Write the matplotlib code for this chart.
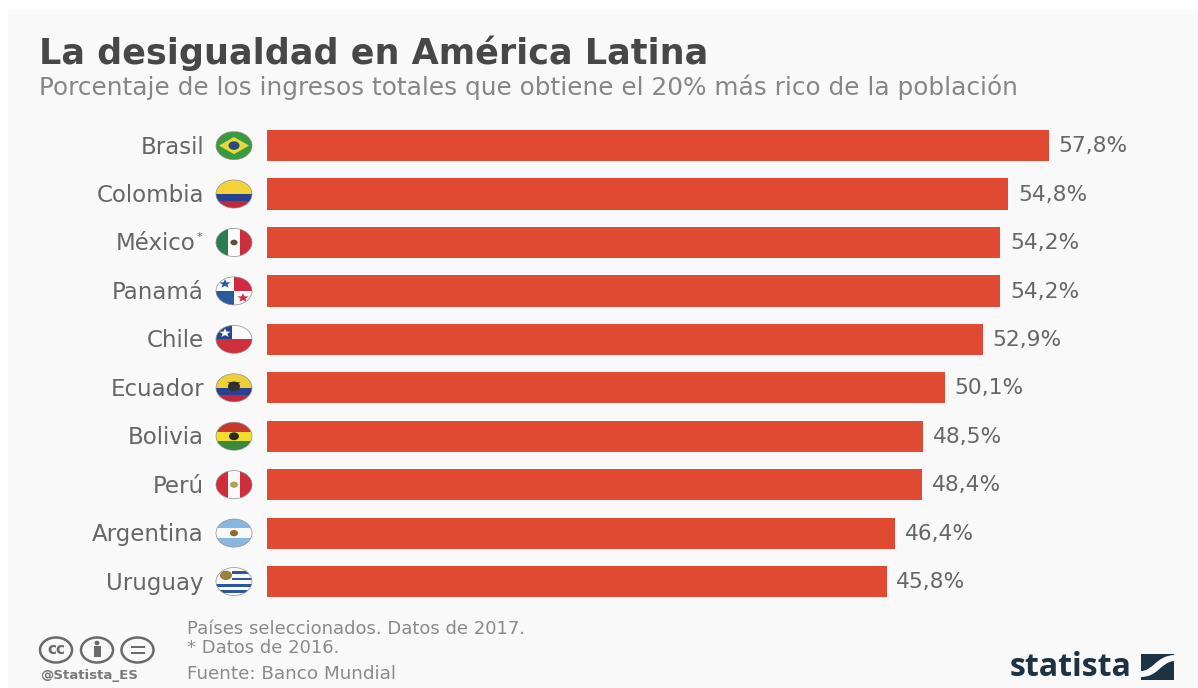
import math
import matplotlib
matplotlib.use('Agg')
import matplotlib.pyplot as plt
from matplotlib.patches import Ellipse, Rectangle, Polygon, PathPatch
from matplotlib.path import Path

W, H = 1198, 688

# datos
paises = ['Brasil', 'Colombia', 'México', 'Panamá', 'Chile',
          'Ecuador', 'Bolivia', 'Perú', 'Argentina', 'Uruguay']
valores = [57.8, 54.8, 54.2, 54.2, 52.9, 50.1, 48.5, 48.4, 46.4, 45.8]
etiquetas = ['57,8%', '54,8%', '54,2%', '54,2%', '52,9%',
             '50,1%', '48,5%', '48,4%', '46,4%', '45,8%']

titulo = 'La desigualdad en América Latina'
subtitulo = 'Porcentaje de los ingresos totales que obtiene el 20% más rico de la población'
notas = ['Países seleccionados. Datos de 2017.', '* Datos de 2016.', 'Fuente: Banco Mundial']

plt.rcParams['font.family'] = ['DejaVu Sans']

ROJO = '#e04a33'
GRIS = '#666666'
OSCURO = '#1d3243'
FONDO = '#f9f9f9'
APLASTE = 0.78  # las banderas son mas anchas que altas

fig = plt.figure(figsize=(W / 100, H / 100), dpi=100, facecolor='white')

# capa de fondo y adornos, en pixeles
fondo = fig.add_axes([0, 0, 1, 1])
fondo.set_xlim(0, W)
fondo.set_ylim(H, 0)
fondo.axis('off')
fondo.add_patch(Rectangle((8, 10), W - 8, H - 10, color=FONDO, lw=0))

# barras
px_por_unidad = 13.53
izq = 267
ax = fig.add_axes([izq / W, (H - 605.8) / H, (W - izq) / W, 484.4 / H])
ax.patch.set_alpha(0)
ax.set_xlim(0, (W - izq) / px_por_unidad)
ax.set_ylim(len(paises) - 0.5, -0.5)
ax.axis('off')
ax.barh(range(len(paises)), valores, height=0.645, color=ROJO)
for i, v in enumerate(valores):
    ax.annotate(etiquetas[i], (v, i), xytext=(7, 1), textcoords='offset points',
                va='center_baseline', ha='left', fontsize=15.7, color=GRIS)


def clip(p, cx, cy):
    fondo.add_patch(p)
    p.set_clip_path(Ellipse((cx, cy), 36, 36 * APLASTE, transform=fondo.transData))
    return p


def banda(cx, cy, x0, y0, w, h, color):
    # rectangulo relativo al centro de la bandera, recortado por el contorno
    return clip(Rectangle((cx + x0, cy + y0 * APLASTE), w, h * APLASTE, color=color, lw=0), cx, cy)


def poli(cx, cy, pts, color):
    return clip(Polygon([(cx + a, cy + b * APLASTE) for a, b in pts], color=color, lw=0), cx, cy)


def disco(cx, cy, x0, y0, r, color):
    return clip(Ellipse((cx + x0, cy + y0 * APLASTE), 2 * r, 2 * r * APLASTE, color=color, lw=0), cx, cy)


def estrella(cx, cy, x0, y0, r, color):
    pts = []
    for k in range(10):
        rr = r if k % 2 == 0 else r * 0.42
        ang = -math.pi / 2 + k * math.pi / 5
        pts.append((x0 + rr * math.cos(ang), y0 + rr * math.sin(ang)))
    poli(cx, cy, pts, color)


def brasil(cx, cy):
    banda(cx, cy, -18, -18, 36, 36, '#3a9a3f')
    poli(cx, cy, [(-15, 0), (0, -11), (15, 0), (0, 11)], '#e8d93a')
    disco(cx, cy, 0, 0, 5.5, '#2b4a7c')


def colombia(cx, cy):
    banda(cx, cy, -18, -18, 36, 18, '#f4d23a')
    banda(cx, cy, -18, 0, 36, 9, '#27408f')
    banda(cx, cy, -18, 9, 36, 9, '#c0283e')


def mexico(cx, cy):
    banda(cx, cy, -18, -18, 12, 36, '#2a7d52')
    banda(cx, cy, -6, -18, 12, 36, '#fafafa')
    banda(cx, cy, 6, -18, 12, 36, '#c92f3c')
    disco(cx, cy, 0, 0, 3.6, '#5b5038')


def panama(cx, cy):
    banda(cx, cy, -18, -18, 36, 36, '#fafafa')
    banda(cx, cy, 0, -18, 18, 18, '#cf2c40')
    banda(cx, cy, -18, 0, 18, 18, '#2a5a9c')
    estrella(cx, cy, -9, -9, 6, '#2a5a9c')
    estrella(cx, cy, 9, 9, 6, '#cf2c40')


def chile(cx, cy):
    banda(cx, cy, -18, -18, 36, 18, '#fafafa')
    banda(cx, cy, -18, -18, 16, 18, '#24478f')
    banda(cx, cy, -18, 0, 36, 18, '#d0303c')
    estrella(cx, cy, -9, -8, 6, '#ffffff')


def ecuador(cx, cy):
    banda(cx, cy, -18, -18, 36, 18, '#efcf35')
    banda(cx, cy, -18, 0, 36, 9, '#27408f')
    banda(cx, cy, -18, 9, 36, 9, '#c0283e')
    disco(cx, cy, 0, -2, 6, '#33302a')
    poli(cx, cy, [(-7, -7), (7, -7), (0, -3)], '#2b2b2b')


def bolivia(cx, cy):
    banda(cx, cy, -18, -18, 36, 12, '#c9382a')
    banda(cx, cy, -18, -6, 36, 12, '#f0dd30')
    banda(cx, cy, -18, 6, 36, 12, '#3a8a3a')
    disco(cx, cy, 0, 0, 5, '#2c2a20')


def peru(cx, cy):
    banda(cx, cy, -18, -18, 12, 36, '#cf2c3c')
    banda(cx, cy, -6, -18, 12, 36, '#fafafa')
    banda(cx, cy, 6, -18, 12, 36, '#cf2c3c')
    disco(cx, cy, 0, 0, 4, '#a9a65a')


def argentina(cx, cy):
    banda(cx, cy, -18, -18, 36, 12, '#86b8e0')
    banda(cx, cy, -18, -6, 36, 12, '#fafafa')
    banda(cx, cy, -18, 6, 36, 12, '#86b8e0')
    disco(cx, cy, 0, 0, 4, '#8f6a30')


def uruguay(cx, cy):
    banda(cx, cy, -18, -18, 36, 36, '#fafafa')
    for y0 in (-13, -5, 3, 11):
        banda(cx, cy, -18 if y0 > 0 else -2, y0, 36, 3.5, '#2c57a0')
    disco(cx, cy, -8, -8, 6, '#9a7f3a')


banderas = [brasil, colombia, mexico, panama, chile,
            ecuador, bolivia, peru, argentina, uruguay]

# nombres y banderas alineados con cada barra
for i, nombre in enumerate(paises):
    cy = 145.6 + i * 48.44
    x_texto = 196 if nombre == 'México' else 204
    fondo.text(x_texto, cy - 1, nombre, ha='right', va='center_baseline', fontsize=16.5, color=GRIS)
    if nombre == 'México':
        fondo.text(196.5, cy - 5, '*', ha='left', va='center', fontsize=8, color=GRIS)
    banderas[i](234, cy)
    fondo.add_patch(Ellipse((234, cy), 36, 36 * APLASTE, fill=False, ec='#8f8f8f', lw=0.5))

# titulos
fondo.text(39, 53, titulo, ha='left', va='center', fontsize=25.2, fontweight='bold', color='#474747')
fondo.text(39, 87, subtitulo, ha='left', va='center', fontsize=17.8, color='#868686')

# notas al pie
fondo.text(187, 629, notas[0], ha='left', va='center', fontsize=13, color='#8a8a8a')
fondo.text(187, 648, notas[1], ha='left', va='center', fontsize=13, color='#8a8a8a')
fondo.text(187, 674, notas[2], ha='left', va='center', fontsize=13.2, color='#8a8a8a')

# iconos de licencia
for cx in (56, 97, 137.5):
    fondo.add_patch(Ellipse((cx, 650), 32, 25, fill=False, ec='#6a6a6a', lw=1.8))
fondo.text(56, 649, 'cc', ha='center', va='center', fontsize=11, fontweight='bold', color='#6a6a6a')
fondo.add_patch(Ellipse((97, 643), 5, 4.5, color='#6a6a6a', lw=0))
fondo.add_patch(Rectangle((93.5, 646), 7, 11, color='#6a6a6a', lw=0))
fondo.add_patch(Rectangle((130.5, 646), 14, 2.3, color='#6a6a6a', lw=0))
fondo.add_patch(Rectangle((130.5, 651.5), 14, 2.3, color='#6a6a6a', lw=0))
fondo.text(40, 675.5, '@Statista_ES', ha='left', va='center', fontsize=9.6, fontweight='bold', color='#7a7a7a')

# marca statista
fondo.text(1010, 667, 'statista', ha='left', va='center', fontsize=23, fontweight='bold',
           family='Open Sans', color=OSCURO)
fondo.add_patch(Rectangle((1141, 654), 33, 26, color=OSCURO, lw=0))
curva = Path([(1141, 671), (1153, 671), (1156, 656), (1174, 655),
              (1174, 661), (1161, 662), (1158, 677), (1141, 677), (1141, 671)],
             [Path.MOVETO, Path.CURVE4, Path.CURVE4, Path.CURVE4,
              Path.LINETO, Path.CURVE4, Path.CURVE4, Path.CURVE4, Path.CLOSEPOLY])
fondo.add_patch(PathPatch(curva, fc=FONDO, lw=0))

fig.savefig('out.png', dpi=100)
